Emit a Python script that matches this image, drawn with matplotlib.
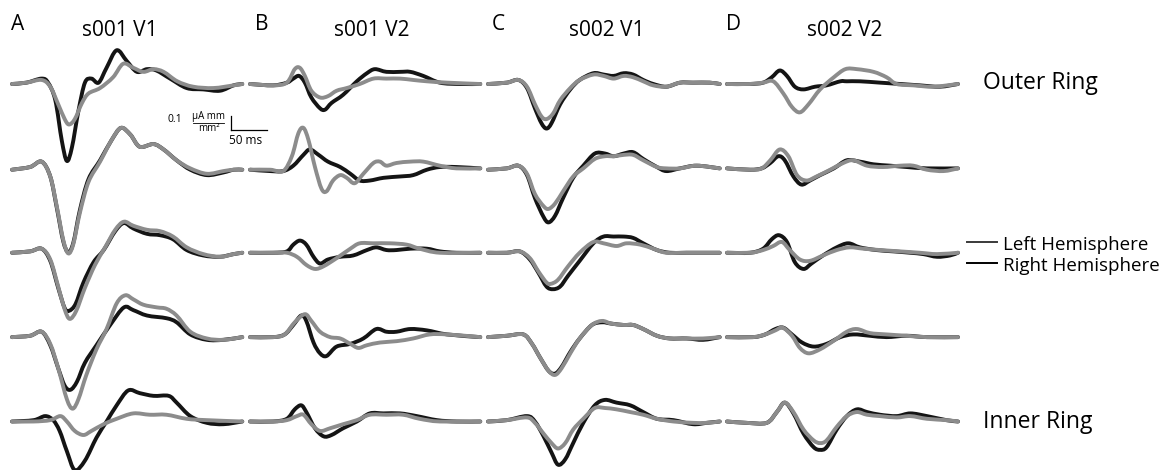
import matplotlib.pyplot as plt
import numpy as np
from matplotlib.path import Path
from matplotlib.patches import PathPatch

plt.rcParams["font.family"] = ["Open Sans", "DejaVu Sans"]

panel_letters = ["A", "B", "C", "D"]
panel_titles = ["s001 V1", "s001 V2", "s002 V1", "s002 V2"]
ring_labels = ["Outer Ring", "Inner Ring"]
hemisphere_labels = ["Left Hemisphere", "Right Hemisphere"]

# keypoints: (time ms, current density uA mm / mm^2)
# five rows per panel, outer ring first
s001_v1_right = [
    [(0, 0), (20, 0.01), (41, 0.04), (50, 0.01), (60, -0.12), (69, -0.42), (76, -0.57), (83, -0.47),
     (92, -0.20), (101, 0.01), (110, 0.04), (120, 0.01), (131, 0.12), (145, 0.25), (159, 0.17),
     (173, 0.09), (187, 0.11), (200, 0.10), (219, 0.04), (242, -0.03), (265, -0.04), (288, -0.05),
     (307, -0.01), (319, 0)],
    [(0, -0.01), (25, 0.01), (41, 0.05), (53, -0.06), (62, -0.29), (71, -0.54), (78, -0.62), (85, -0.55),
     (94, -0.31), (106, -0.08), (122, 0.06), (138, 0.21), (151, 0.30), (164, 0.25), (177, 0.16),
     (196, 0.18), (210, 0.14), (228, 0.06), (247, -0.01), (270, -0.05), (293, -0.03), (307, -0.01),
     (319, -0.01)],
    [(0, 0), (25, 0.01), (41, 0.03), (53, -0.06), (64, -0.26), (73, -0.41), (79, -0.43), (88, -0.38),
     (99, -0.22), (113, -0.07), (127, 0.02), (143, 0.16), (155, 0.22), (168, 0.18), (187, 0.14),
     (205, 0.13), (223, 0.10), (242, 0.02), (265, -0.02), (288, -0.03), (307, -0.01), (319, 0)],
    [(0, 0), (25, 0.01), (41, 0.04), (53, -0.06), (64, -0.23), (73, -0.36), (81, -0.39), (90, -0.33),
     (101, -0.19), (117, -0.06), (136, 0.09), (155, 0.22), (168, 0.20), (187, 0.16), (214, 0.14),
     (228, 0.11), (247, 0.02), (270, -0.02), (293, -0.02), (319, 0)],
    [(0, 0), (30, 0.01), (46, 0.04), (57, 0.01), (66, -0.07), (76, -0.22), (87, -0.36), (101, -0.29),
     (117, -0.12), (131, 0), (145, 0.12), (161, 0.23), (177, 0.21), (196, 0.19), (217, 0.19),
     (228, 0.14), (247, 0.04), (270, -0.01), (293, -0.02), (319, 0)],
]
s001_v1_left = [
    [(0, 0), (20, 0.01), (41, 0.03), (53, -0.02), (64, -0.15), (73, -0.26), (79, -0.30), (87, -0.26),
     (97, -0.14), (106, -0.07), (122, -0.03), (140, 0.05), (154, 0.15), (168, 0.12), (182, 0.09),
     (196, 0.11), (210, 0.09), (229, 0.02), (251, -0.02), (279, -0.03), (307, -0.01), (319, 0)],
    [(0, -0.01), (25, 0.01), (41, 0.05), (53, -0.06), (62, -0.28), (71, -0.53), (78, -0.63), (85, -0.56),
     (94, -0.33), (106, -0.10), (122, 0.05), (138, 0.21), (151, 0.30), (164, 0.25), (177, 0.16),
     (196, 0.18), (210, 0.14), (228, 0.06), (247, 0), (270, -0.04), (293, -0.02), (307, -0.01),
     (319, -0.01)],
    [(0, 0), (25, 0.01), (41, 0.03), (53, -0.05), (64, -0.25), (73, -0.42), (80, -0.49), (89, -0.43),
     (101, -0.26), (115, -0.09), (129, 0.04), (143, 0.17), (155, 0.23), (168, 0.20), (187, 0.17),
     (205, 0.16), (223, 0.12), (242, 0.04), (265, -0.01), (288, -0.03), (307, -0.01), (319, 0)],
    [(0, 0), (25, 0.01), (41, 0.04), (53, -0.05), (64, -0.23), (76, -0.46), (84, -0.53), (92, -0.46),
     (103, -0.28), (117, -0.09), (131, 0.06), (145, 0.25), (157, 0.31), (168, 0.28), (182, 0.24),
     (201, 0.22), (214, 0.21), (228, 0.16), (247, 0.04), (270, -0.01), (293, -0.02), (319, 0)],
    [(0, 0), (30, 0), (53, 0.01), (67, 0.04), (76, 0), (87, -0.07), (99, -0.10), (110, -0.07),
     (127, -0.02), (145, 0.02), (168, 0.06), (191, 0.05), (214, 0.05), (242, 0.02), (270, 0.01),
     (319, 0)],
]

s001_v2_right = [
    [(0, 0), (32, -0.01), (51, 0.01), (60, 0.04), (68, 0.06), (76, 0.01), (85, -0.10), (97, -0.18),
     (104, -0.19), (113, -0.14), (129, -0.08), (148, 0.02), (162, 0.08), (173, 0.11), (189, 0.09),
     (208, 0.09), (222, 0.09), (240, 0.06), (263, 0.01), (291, 0), (319, 0)],
    [(0, -0.01), (28, -0.02), (46, -0.02), (60, 0.02), (74, 0.10), (83, 0.14), (95, 0.10), (108, 0.05),
     (125, 0.01), (139, -0.04), (152, -0.09), (166, -0.09), (185, -0.07), (208, -0.06), (226, -0.05),
     (245, -0.01), (263, 0.01), (286, 0.01), (319, 0)],
    [(0, 0), (32, 0), (51, 0.01), (60, 0.06), (69, 0.09), (78, 0.06), (88, -0.03), (97, -0.08),
     (108, -0.05), (125, -0.03), (143, -0.02), (162, 0.02), (175, 0.04), (189, 0.02), (203, 0.02),
     (222, 0.03), (245, 0.03), (263, 0.01), (286, 0), (319, 0)],
    [(0, 0), (32, 0), (48, 0.02), (60, 0.09), (71, 0.16), (78, 0.12), (88, -0.04), (97, -0.12),
     (106, -0.14), (120, -0.07), (139, -0.05), (157, -0.01), (175, 0.06), (189, 0.04), (203, 0.04),
     (222, 0.06), (245, 0.05), (273, 0.02), (319, 0)],
    [(0, 0), (32, 0), (51, 0.02), (62, 0.09), (71, 0.12), (78, 0.07), (90, -0.05), (102, -0.11),
     (113, -0.10), (129, -0.05), (148, 0), (166, 0.06), (185, 0.06), (208, 0.06), (231, 0.04),
     (259, 0.01), (286, 0), (319, 0)],
]
s001_v2_left = [
    [(0, 0), (32, -0.01), (51, 0.01), (62, 0.11), (69, 0.12), (76, 0.06), (85, -0.05), (97, -0.10),
     (108, -0.09), (120, -0.05), (134, -0.03), (152, 0), (171, 0.04), (189, 0.04), (208, 0.04),
     (226, 0.03), (245, 0.02), (273, 0.01), (319, 0)],
    [(0, -0.01), (28, -0.01), (46, -0.02), (58, 0.09), (67, 0.26), (74, 0.30), (81, 0.21), (90, 0.01),
     (99, -0.15), (106, -0.17), (115, -0.09), (125, -0.05), (134, -0.07), (145, -0.11), (157, -0.04),
     (171, 0.04), (180, 0.05), (189, 0.02), (203, 0.04), (222, 0.05), (240, 0.05), (263, 0.02),
     (286, 0), (319, 0)],
    [(0, 0), (32, 0), (51, 0), (65, -0.03), (78, -0.09), (90, -0.12), (102, -0.10), (120, -0.04),
     (139, 0.03), (152, 0.07), (171, 0.07), (194, 0.07), (217, 0.06), (235, 0.03), (263, 0), (319, 0)],
    [(0, 0), (32, 0), (48, 0.02), (62, 0.11), (76, 0.17), (85, 0.12), (97, 0.04), (111, 0), (125, -0.01),
     (139, -0.05), (150, -0.08), (162, -0.06), (180, -0.04), (203, -0.03), (226, -0.01), (249, 0.02),
     (273, 0.02), (319, 0)],
    [(0, 0), (32, 0), (51, 0.01), (65, 0.04), (74, 0.05), (85, -0.02), (97, -0.07), (111, -0.05),
     (129, -0.02), (148, 0.01), (166, 0.05), (189, 0.05), (212, 0.05), (235, 0.02), (263, 0), (319, 0)],
]

s002_v1_right = [
    [(0, 0), (26, 0.01), (42, 0.03), (54, -0.03), (65, -0.18), (74, -0.29), (81, -0.33), (88, -0.29),
     (100, -0.15), (114, -0.04), (127, 0.03), (146, 0.08), (160, 0.07), (174, 0.06), (188, 0.08),
     (201, 0.07), (215, 0.03), (229, 0), (247, -0.02), (266, 0.01), (284, 0.01), (307, 0.01), (321, 0)],
    [(0, -0.01), (26, 0), (42, 0.02), (54, -0.05), (65, -0.22), (77, -0.36), (84, -0.40), (93, -0.35),
     (104, -0.22), (118, -0.07), (132, 0.02), (148, 0.11), (162, 0.11), (174, 0.09), (188, 0.11),
     (201, 0.12), (215, 0.07), (234, 0.01), (247, -0.02), (266, 0), (289, 0.02), (321, 0)],
    [(0, 0), (26, 0), (44, 0.01), (58, -0.05), (70, -0.15), (81, -0.25), (90, -0.27), (100, -0.25),
     (111, -0.17), (127, -0.06), (146, 0.07), (160, 0.12), (174, 0.12), (188, 0.12), (201, 0.11),
     (215, 0.07), (234, 0.02), (252, 0), (275, 0), (321, 0)],
    [(0, 0), (26, 0.01), (49, 0.02), (61, -0.05), (72, -0.15), (84, -0.25), (93, -0.27), (102, -0.22),
     (114, -0.11), (127, -0.01), (144, 0.09), (158, 0.11), (171, 0.10), (188, 0.09), (201, 0.09),
     (215, 0.06), (234, 0.01), (252, -0.01), (275, -0.01), (298, -0.02), (321, 0)],
    [(0, 0), (26, 0.01), (54, 0.04), (65, 0), (77, -0.11), (88, -0.23), (97, -0.32), (107, -0.28),
     (118, -0.16), (132, -0.01), (148, 0.12), (162, 0.16), (178, 0.14), (197, 0.12), (215, 0.07),
     (234, 0.02), (257, 0.01), (284, -0.02), (303, -0.01), (321, 0)],
]
s002_v1_left = [
    [(0, 0), (26, 0.01), (42, 0.03), (54, -0.02), (65, -0.15), (74, -0.24), (81, -0.26), (90, -0.22),
     (100, -0.12), (114, -0.03), (127, 0.03), (146, 0.07), (160, 0.06), (174, 0.04), (188, 0.06),
     (201, 0.05), (215, 0.02), (229, -0.01), (247, -0.02), (266, 0.01), (284, 0.01), (307, 0.01), (321, 0)],
    [(0, -0.01), (26, 0), (42, 0.02), (54, -0.04), (65, -0.19), (77, -0.28), (84, -0.30), (93, -0.26),
     (104, -0.17), (118, -0.06), (132, 0), (148, 0.07), (162, 0.09), (174, 0.09), (188, 0.10),
     (201, 0.10), (215, 0.06), (234, 0.01), (247, 0), (266, 0), (289, 0.02), (321, 0)],
    [(0, 0), (26, 0), (44, 0.01), (58, -0.04), (70, -0.14), (81, -0.22), (87, -0.23), (97, -0.20),
     (111, -0.10), (127, 0), (146, 0.08), (160, 0.07), (178, 0.05), (192, 0.07), (211, 0.06),
     (229, 0.03), (247, 0), (275, 0), (321, 0)],
    [(0, 0), (26, 0.01), (49, 0.02), (61, -0.05), (72, -0.15), (84, -0.25), (93, -0.28), (102, -0.23),
     (114, -0.12), (127, -0.01), (144, 0.09), (158, 0.12), (171, 0.10), (188, 0.09), (201, 0.09),
     (215, 0.06), (234, 0.01), (252, -0.01), (275, -0.01), (298, -0.01), (321, 0)],
    [(0, 0), (26, 0.01), (54, 0.03), (65, -0.01), (77, -0.09), (88, -0.16), (97, -0.20), (107, -0.16),
     (118, -0.06), (132, 0.02), (148, 0.10), (162, 0.10), (178, 0.09), (197, 0.07), (215, 0.05),
     (234, 0.02), (257, 0), (284, -0.01), (303, -0.01), (321, 0)],
]

s002_v2_right = [
    [(0, 0), (31, 0), (50, 0.01), (62, 0.05), (73, 0.10), (83, 0.06), (94, -0.02), (106, -0.04),
     (122, -0.02), (138, -0.01), (157, 0.02), (166, 0.02), (184, 0.02), (212, 0.01), (240, 0),
     (267, -0.01), (295, -0.02), (320, 0)],
    [(0, 0), (32, -0.01), (48, 0), (60, 0.04), (71, 0.09), (80, 0.06), (92, -0.06), (103, -0.12),
     (115, -0.09), (129, -0.05), (148, 0), (166, 0.06), (184, 0.05), (203, 0.03), (226, 0.02),
     (249, 0.01), (277, 0), (320, 0)],
    [(0, 0), (32, 0), (50, 0.03), (62, 0.10), (72, 0.13), (83, 0.08), (94, -0.07), (106, -0.12),
     (117, -0.08), (133, -0.02), (152, 0.04), (168, 0.07), (184, 0.04), (207, 0.02), (231, 0.01),
     (254, 0), (272, -0.01), (291, -0.03), (309, -0.02), (320, 0)],
    [(0, 0), (36, 0), (53, 0.02), (67, 0.06), (78, 0.07), (90, 0.02), (104, -0.04), (120, -0.07),
     (138, -0.05), (157, 0), (175, 0.02), (198, 0.01), (221, 0), (249, 0.01), (277, 0), (320, 0)],
    [(0, 0), (27, -0.01), (55, -0.01), (69, 0.07), (80, 0.14), (92, 0.06), (106, -0.09), (120, -0.19),
     (129, -0.21), (138, -0.19), (152, -0.06), (166, 0.04), (180, 0.09), (194, 0.07), (212, 0.05),
     (235, 0.04), (254, 0.06), (277, 0.04), (304, 0.01), (320, 0)],
]
s002_v2_left = [
    [(0, 0), (31, 0), (50, 0.01), (64, 0.02), (78, -0.07), (90, -0.17), (101, -0.21), (113, -0.15),
     (129, -0.04), (148, 0.05), (164, 0.11), (180, 0.11), (203, 0.09), (221, 0.05), (235, 0),
     (258, -0.01), (286, -0.02), (320, 0)],
    [(0, 0), (32, -0.01), (48, 0), (60, 0.06), (73, 0.14), (85, 0.09), (97, -0.05), (110, -0.09),
     (124, -0.06), (143, -0.01), (161, 0.04), (175, 0.06), (194, 0.02), (216, 0.01), (240, 0.02),
     (258, 0.02), (277, -0.01), (300, -0.02), (320, 0)],
    [(0, 0), (32, 0), (50, 0.02), (64, 0.05), (76, 0.08), (87, 0.02), (101, -0.05), (115, -0.06),
     (133, -0.02), (152, 0.02), (170, 0.04), (189, 0.03), (212, 0.02), (240, 0.01), (267, 0),
     (291, -0.01), (320, 0)],
    [(0, 0), (36, 0), (53, 0.02), (67, 0.05), (77, 0.07), (90, 0.01), (101, -0.08), (113, -0.12),
     (129, -0.09), (147, -0.03), (166, 0.04), (180, 0.06), (198, 0.03), (221, 0.02), (249, 0.01),
     (277, 0), (320, 0)],
    [(0, 0), (27, -0.01), (55, -0.01), (69, 0.07), (80, 0.14), (92, 0.07), (106, -0.06), (120, -0.14),
     (129, -0.16), (138, -0.14), (152, -0.04), (166, 0.04), (180, 0.07), (194, 0.05), (212, 0.04),
     (235, 0.03), (254, 0.04), (277, 0.02), (304, 0.01), (320, 0)],
]

panels = [
    (s001_v1_right, s001_v1_left),
    (s001_v2_right, s001_v2_left),
    (s002_v1_right, s002_v1_left),
    (s002_v2_right, s002_v2_left),
]

W, H = 1164, 470
BLACK = "#141414"
GRAY = "#8c8c8c"
PX_PER_UNIT = 135.0  # 0.1 uA mm/mm^2 is ~13.5 px
ROW_GAP = 0.625
col_left = [12, 250, 488, 727]
col_width = 231


def fx(px):
    return px / W


def fy(py):
    return 1 - py / H


def smooth_path(pts):
    # Catmull-Rom through the keypoints, drawn as cubic Bezier segments
    p = np.asarray(pts, dtype=float)
    ext = np.vstack([p[0], p, p[-1]])
    verts = [p[0]]
    codes = [Path.MOVETO]
    for i in range(len(p) - 1):
        p0, p1, p2, p3 = ext[i], ext[i + 1], ext[i + 2], ext[i + 3]
        verts += [p1 + (p2 - p0) / 6, p2 - (p3 - p1) / 6, p2]
        codes += [Path.CURVE4] * 3
    return Path(verts, codes)


fig = plt.figure(figsize=(W / 100, H / 100), dpi=100)

axes = []
for left, (right_traces, left_traces) in zip(col_left, panels):
    ax = fig.add_axes([fx(left), 0, col_width / W, 1])
    ax.set_xlim(0, 320)
    ax.set_ylim(-(H - 84) / PX_PER_UNIT, 84 / PX_PER_UNIT)
    ax.axis("off")
    for r in range(5):
        for trace, color in ((right_traces[r], BLACK), (left_traces[r], GRAY)):
            t, v = np.array(trace).T
            path = smooth_path(np.column_stack([t, v - r * ROW_GAP]))
            ax.add_patch(PathPatch(path, facecolor="none", edgecolor=color, lw=2.8,
                                   joinstyle="round", capstyle="round", clip_on=False))
    axes.append(ax)

# scale bar: 0.1 uA mm/mm^2 and 50 ms
ax = axes[0]
bar_t, bar_v = 303, -0.34
ax.plot([bar_t, bar_t], [bar_v, bar_v + 0.1], color="black", lw=0.9, clip_on=False)
ax.plot([bar_t, bar_t + 50], [bar_v, bar_v], color="black", lw=0.9, clip_on=False)
fig.text(fx(174.5), fy(119), "0.1", fontsize=7.5, ha="center", va="center")
fig.text(fx(208.5), fy(116.5), "µA mm", fontsize=7, ha="center", va="center")
fig.lines.append(plt.Line2D([fx(193), fx(224)], [fy(122.5), fy(122.5)], color="black", lw=0.6,
                            transform=fig.transFigure))
fig.text(fx(208.5), fy(128.5), "mm²", fontsize=7, ha="center", va="center")
fig.text(fx(229), fy(141), "50 ms", fontsize=8.5, ha="left", va="center")

# panel letters and titles
letter_x = [18, 262, 498, 734]
title_x = [120, 372, 607, 845]
for lx, tx, letter, title in zip(letter_x, title_x, panel_letters, panel_titles):
    fig.text(fx(lx), fy(24), letter, fontsize=15, ha="center", va="center")
    fig.text(fx(tx), fy(30), title, fontsize=15, ha="center", va="center")

# ring labels
fig.text(fx(983), fy(83), ring_labels[0], fontsize=16.5, ha="left", va="center")
fig.text(fx(983), fy(422), ring_labels[1], fontsize=16.5, ha="left", va="center")

# hemisphere key
for y, label, color in ((242, hemisphere_labels[0], "#3a3a3a"), (263, hemisphere_labels[1], "black")):
    fig.lines.append(plt.Line2D([fx(967), fx(997)], [fy(y), fy(y)], color=color, lw=1.4,
                                transform=fig.transFigure))
    fig.text(fx(1003), fy(y + 3), label, fontsize=13.5, ha="left", va="center")

fig.savefig("out.png", dpi=100)
